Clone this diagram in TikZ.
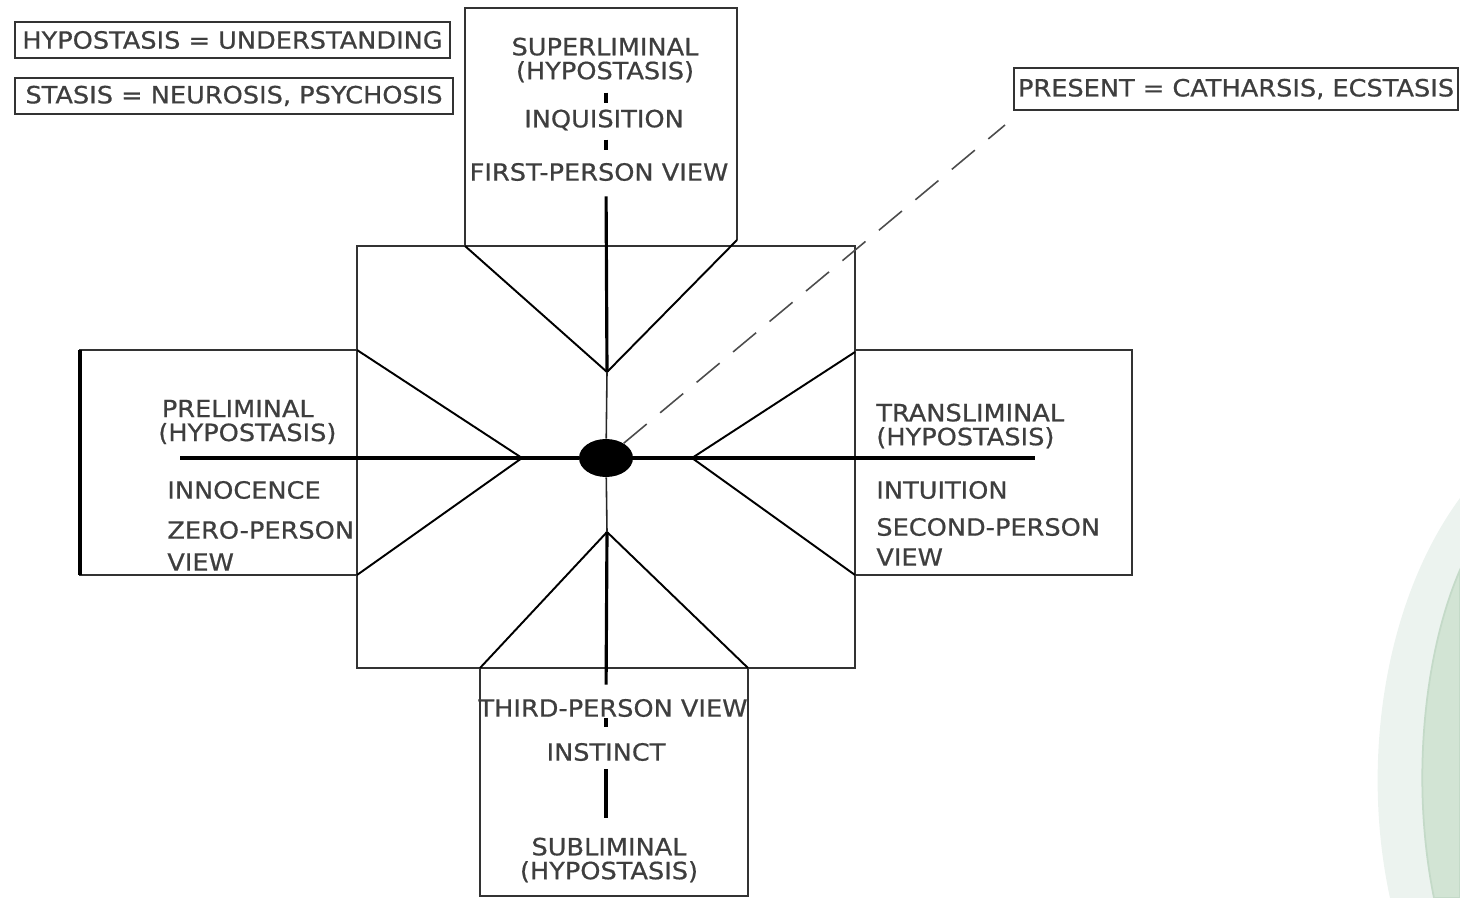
\documentclass[tikz,border=0pt]{standalone}
\usepackage{fontspec}
\setmainfont{DejaVu Sans}[FakeStretch=1.08, FakeBold=0.7]
\usepackage{xcolor}
\usetikzlibrary{positioning, shapes.geometric}
\definecolor{inkgray}{RGB}{62,62,62}
\definecolor{mistgreen}{RGB}{236,243,239}
\definecolor{sagegreen}{RGB}{210,228,212}
\definecolor{sageedge}{RGB}{196,218,200}
\tikzset{
    term/.style={font=\fontsize{13.5}{13.6}\selectfont, text=inkgray, inner sep=0pt, align=center},
    termleft/.style={term, anchor=west, align=left},
    legendbox/.style={rectangle, draw=black!80, line width=1.1pt, font=\fontsize{13.5}{14}\selectfont,
        text=inkgray, minimum height=0.72cm, inner sep=0pt},
    frame/.style={draw=black!80, line width=1pt},
    spoke/.style={draw=black, line width=1.1pt},
    axis/.style={draw=black, line width=1.8pt},
    thinaxis/.style={draw=black!85, line width=0.9pt},
    dashline/.style={draw=black!70, line width=0.9pt, dash pattern=on 0.6cm off 0.35cm},
}

\begin{document}
\begin{tikzpicture}[x=0.02cm, y=-0.02cm]
    \useasboundingbox (0,0) rectangle (1460,898);
    % slide decoration
    \fill[mistgreen] (1460,498) .. controls (1385,600) and (1360,760) .. (1390,898) -- (1460,898) -- cycle;
    \fill[sagegreen, draw=sageedge, line width=1pt] (1460,570) .. controls (1425,650) and (1410,780) .. (1434,898) -- (1460,898) -- cycle;

    \coordinate (sqnw) at (357,246);
    \coordinate (sqse) at (855,668);
    \coordinate (toptip) at (607,372);
    \coordinate (lefttip) at (522,458);
    \coordinate (righttip) at (692,458);
    \coordinate (bottip) at (607,532);
    \coordinate (axw) at (180,458);
    \coordinate (axe) at (1035,458);
    \coordinate (dashend) at (1005,125);

    % cross of boxes
    \draw[frame] (sqnw) rectangle (sqse);
    \draw[frame] (465,246) -- (465,8) -- (737,8) -- (737,240);
    \draw[frame] (357,350) -- (80,350) -- (80,575) -- (357,575);
    \draw[axis] (80,350) -- (80,575);
    \draw[frame] (855,350) -- (1132,350) -- (1132,575) -- (855,575);
    \draw[frame] (480,668) -- (480,896) -- (748,896) -- (748,668);

    \draw[spoke] (465,246) -- (toptip) -- (737,240);
    \draw[spoke] (357,350) -- (lefttip) -- (357,575);
    \draw[spoke] (855,352) -- (righttip) -- (855,575);
    \draw[spoke] (480,668) -- (bottip) -- (748,668);

    \node[ellipse, fill=black, minimum width=1.08cm, minimum height=0.76cm, inner sep=0pt] (dot) at (606,458) {};

    % legends
    \node[legendbox, minimum width=8.7cm] (hypo) at (232.5,40) {HYPOSTASIS = UNDERSTANDING};
    \node[legendbox, minimum width=8.76cm, below right=0.36cm and 0cm of hypo.south west] (stasis) {STASIS = NEUROSIS, PSYCHOSIS};
    \node[legendbox, minimum width=8.88cm, minimum height=0.84cm] (present) at (1236,89) {PRESENT = CATHARSIS, ECSTASIS};

    % terms
    \node[term] (super) at (605,60) {SUPERLIMINAL\\(HYPOSTASIS)};
    \node[term] (inquis) at (604,120) {INQUISITION};
    \node[term] (firstp) at (599,172) {FIRST-PERSON VIEW};
    \node[termleft] (prelim) at (158,422) {\hspace{2pt}PRELIMINAL\\(HYPOSTASIS)};
    \node[termleft] (innoc) at (167,490) {INNOCENCE};
    \node[termleft] (zerop) at (167,530) {ZERO-PERSON};
    \node[termleft] (zeroview) at (167,562) {VIEW};
    \node[termleft] (transl) at (876,426) {TRANSLIMINAL\\(HYPOSTASIS)};
    \node[termleft] (intuit) at (876,490) {INTUITION};
    \node[termleft] (secondp) at (876,527) {SECOND-PERSON};
    \node[termleft] (secondview) at (876,557) {VIEW};
    \node[term] (thirdp) at (613,708) {THIRD-PERSON VIEW};
    \node[term] (instinct) at (606,752) {INSTINCT};
    \node[term] (sublim) at (609,860) {SUBLIMINAL\\(HYPOSTASIS)};

    % axes
    \draw[axis] (axw) -- (dot);
    \draw[axis] (dot) -- (axe);
    \draw[axis, shorten <=0.2cm, shorten >=0.12cm] (super.south -| dot) -- (inquis.north -| dot);
    \draw[axis, shorten <=0.18cm, shorten >=0.26cm] (inquis.south -| dot) -- (firstp.north -| dot);
    \draw[axis, shorten <=0.3cm] (firstp.south -| dot) -- (toptip);
    \draw[thinaxis] (toptip) -- (dot);
    \draw[thinaxis] (dot) -- (bottip);
    \draw[axis, shorten >=0.28cm] (bottip) -- (thirdp.north -| dot);
    \draw[axis, shorten <=0.02cm, shorten >=0.32cm] (thirdp.south -| dot) -- (instinct.north -| dot);
    \draw[axis, shorten <=0.16cm, shorten >=0.38cm] (instinct.south -| dot) -- (sublim.north -| dot);
    \draw[dashline] (dot) -- (dashend);
\end{tikzpicture}
\end{document}
